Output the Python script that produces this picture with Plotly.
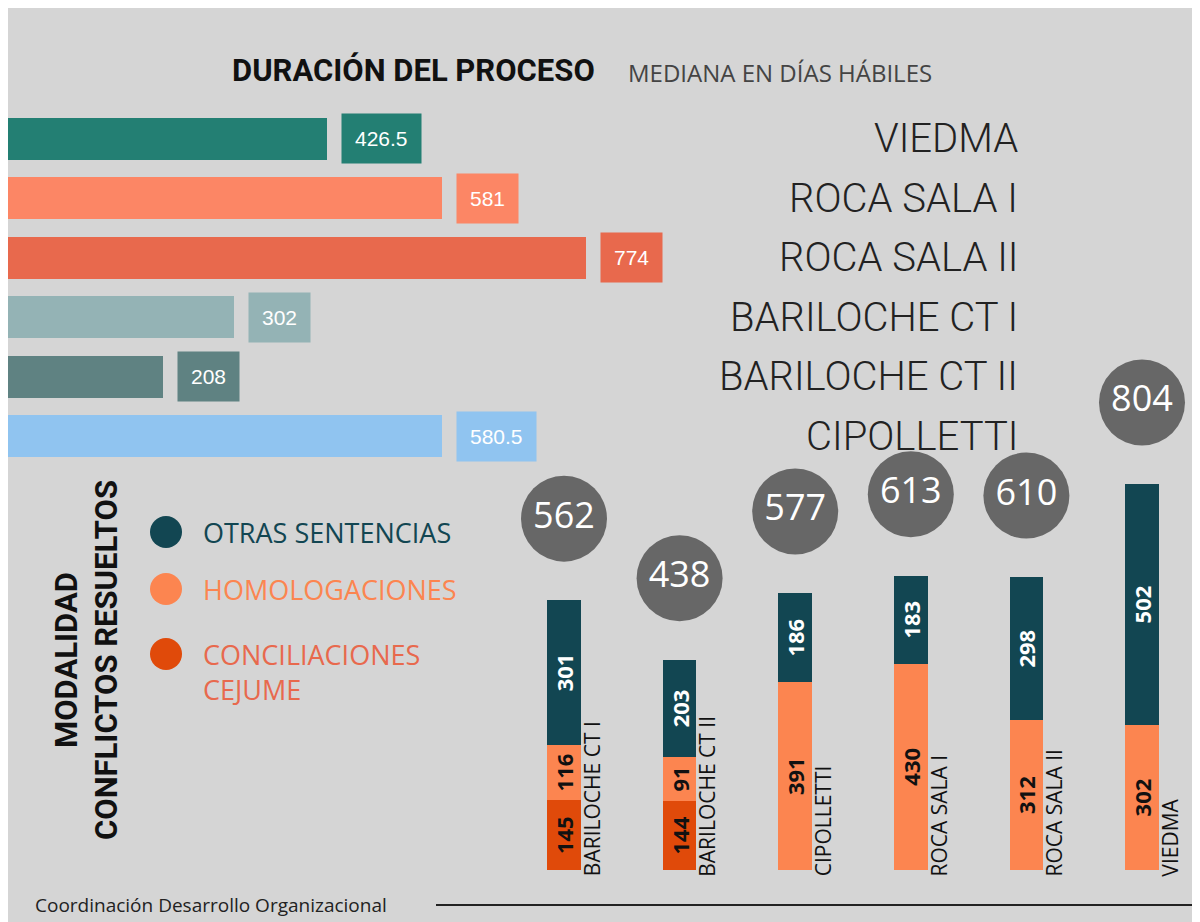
import plotly.graph_objects as go

W, H = 1200, 922
BG = "#d5d5d5"

# duración (mediana en días hábiles)
dur_sedes = ["VIEDMA", "ROCA SALA I", "ROCA SALA II", "BARILOCHE CT I", "BARILOCHE CT II", "CIPOLLETTI"]
dur_vals = [426.5, 581, 774, 302, 208, 580.5]
dur_colors = ["#237f73", "#fc8665", "#e8694d", "#94b3b5", "#5f8282", "#90c4f0"]

# modalidad conflictos resueltos
mod_sedes = ["BARILOCHE CT I", "BARILOCHE CT II", "CIPOLLETTI", "ROCA SALA I", "ROCA SALA II", "VIEDMA"]
conciliaciones = [145, 144, 0, 0, 0, 0]
homologaciones = [116, 91, 391, 430, 312, 302]
otras = [301, 203, 186, 183, 298, 502]
totales = [562, 438, 577, 613, 610, 804]


def py(px):
    return 1 - px / H


fig = go.Figure()

# --- top: horizontal bars
fig.add_trace(go.Bar(
    x=dur_vals, y=dur_sedes, orientation="h",
    marker=dict(color=dur_colors, line=dict(width=0)),
    width=0.7, xaxis="x", yaxis="y", showlegend=False, hoverinfo="skip",
))
for s, v, c in zip(dur_sedes, dur_vals, dur_colors):
    fig.add_annotation(
        x=v, y=s, xref="x", yref="y", text=f"{v:g}", showarrow=False,
        xanchor="left", yanchor="middle", xshift=14, bgcolor=c, borderpad=13,
        font=dict(family="Liberation Sans", size=21, color="white"),
    )
    fig.add_annotation(
        x=1012 / W, y=s, xref="paper", yref="y", text=s, showarrow=False,
        xanchor="right", yanchor="middle",
        font=dict(family="Roboto Light, Roboto", size=40, color="#222"),
    )

# --- bottom: stacked vertical bars
seg = [
    ("CONCILIACIONES", conciliaciones, "#e04a0a", "#111"),
    ("HOMOLOGACIONES", homologaciones, "#fc8550", "#111"),
    ("OTRAS", otras, "#124652", "white"),
]
for name, vals, col, tcol in seg:
    fig.add_trace(go.Bar(
        x=mod_sedes, y=vals, width=0.29, marker=dict(color=col, line=dict(width=0)),
        text=[str(v) if v else "" for v in vals], textposition="inside",
        insidetextanchor="middle", textangle=-90, constraintext="none",
        textfont=dict(family="Open Sans", size=22, color=tcol, weight="bold"),
        xaxis="x2", yaxis="y2", showlegend=False, hoverinfo="skip",
    ))
fig.add_trace(go.Scatter(
    x=mod_sedes, y=[t + 170 for t in totales], mode="markers+text",
    marker=dict(size=86, color="#676767"), text=[str(t) for t in totales],
    textposition="middle center",
    textfont=dict(family="Open Sans", size=36, color="white"),
    xaxis="x2", yaxis="y2", showlegend=False, hoverinfo="skip",
))
for s in mod_sedes:
    fig.add_annotation(
        x=s, y=-18, xref="x2", yref="y2", text=s, showarrow=False, textangle=-90,
        xanchor="left", yanchor="bottom", xshift=12,
        font=dict(family="Open Sans", size=21, color="#111"),
    )

# --- legend
leg = [("OTRAS SENTENCIAS", "#124652", "#124652", 524),
       ("HOMOLOGACIONES", "#fc8550", "#fc8550", 581),
       ("CONCILIACIONES<br>CEJUME", "#e04a0a", "#e8694d", 646)]
for txt, dot, tc, ypx in leg:
    fig.add_shape(type="circle", xref="paper", yref="paper",
                  x0=142 / W, x1=174 / W, y0=py(ypx + 16), y1=py(ypx - 16),
                  fillcolor=dot, line=dict(width=0))
    fig.add_annotation(x=193 / W, y=py(ypx - 20), xref="paper", yref="paper",
                       text=txt, showarrow=False, xanchor="left", yanchor="top", align="left",
                       font=dict(family="Open Sans", size=27, color=tc))

# --- titles
fig.add_annotation(x=222 / W, y=py(62), xref="paper", yref="paper", text="<b>DURACIÓN DEL PROCESO</b>",
                   showarrow=False, xanchor="left", yanchor="middle",
                   font=dict(family="Roboto", size=31, color="#111"))
fig.add_annotation(x=618 / W, y=py(65), xref="paper", yref="paper", text="MEDIANA EN DÍAS HÁBILES",
                   showarrow=False, xanchor="left", yanchor="middle",
                   font=dict(family="Open Sans", size=24, color="#444"))
fig.add_annotation(x=78 / W, y=py(652), xref="paper", yref="paper",
                   text="<b>MODALIDAD<br>CONFLICTOS RESUELTOS</b>", textangle=-90, showarrow=False,
                   xanchor="center", yanchor="middle",
                   font=dict(family="Roboto", size=31, color="#111"))
fig.add_annotation(x=25 / W, y=py(897), xref="paper", yref="paper",
                   text="Coordinación Desarrollo Organizacional", showarrow=False,
                   xanchor="left", yanchor="middle",
                   font=dict(family="Open Sans", size=19, color="#222"))
fig.add_shape(type="line", xref="paper", yref="paper", x0=428 / W, x1=1, y0=py(897), y1=py(897),
              line=dict(color="#222", width=2))

fig.update_layout(
    width=W, height=H, margin=dict(l=0, r=0, t=0, b=0),
    paper_bgcolor=BG, plot_bgcolor="rgba(0,0,0,0)", barmode="stack",
    xaxis=dict(domain=[0, 1], range=[0, W / 0.747], visible=False, fixedrange=True),
    yaxis=dict(domain=[py(458), py(101)], autorange="reversed", visible=False,
               categoryorder="array", categoryarray=dur_sedes, anchor="x"),
    xaxis2=dict(domain=[0, 1], range=[-556 / 115.6, (W - 556) / 115.6], visible=False,
                type="category", anchor="y2"),
    yaxis2=dict(domain=[0, 1], range=[-60 / 0.48, 862 / 0.48], visible=False, anchor="x2"),
)

fig.write_html("out.html")
